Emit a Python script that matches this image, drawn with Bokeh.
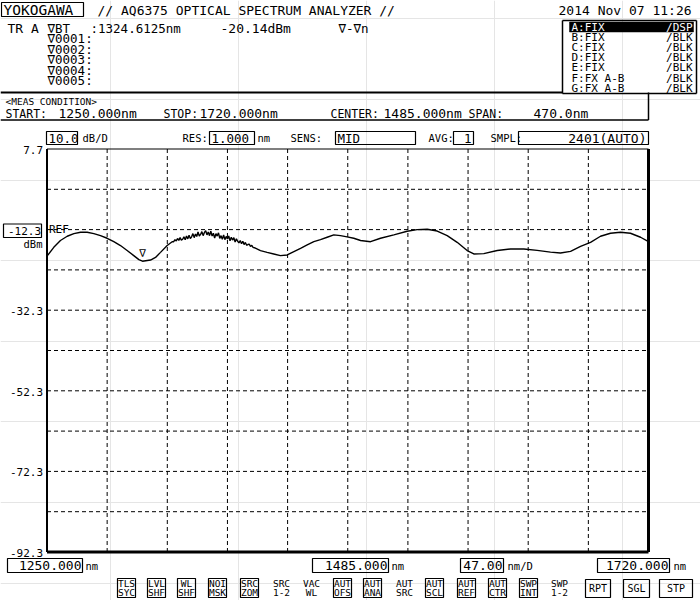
from bokeh.plotting import figure
from bokeh.models import Range1d
from bokeh.embed import file_html
from bokeh.resources import INLINE
from bokeh.core.properties import value

# ---------------- data ----------------
wavelength_nm = [
    1250.0, 1255.3, 1260.5, 1265.8, 1271.0, 1276.2, 1281.4, 1286.6, 1291.8, 1297.0,
    1302.2, 1307.4, 1312.6, 1317.8, 1321.8, 1324.6, 1330.9, 1334.8, 1338.7, 1343.9,
    1347.8,
    1349, 1350, 1351, 1352, 1353, 1354, 1355, 1356, 1357, 1358,
    1359, 1360, 1361, 1362, 1363, 1364, 1365, 1366, 1367, 1368,
    1369, 1370, 1371, 1372, 1373, 1374, 1375, 1376, 1377, 1378,
    1379, 1380, 1381, 1382, 1383, 1384, 1385, 1386, 1387, 1388,
    1389, 1390, 1391, 1392, 1393, 1394, 1395, 1396, 1397, 1398,
    1399, 1400, 1401, 1402, 1403, 1404, 1405, 1406, 1407, 1408,
    1409, 1410, 1411, 1412,
    1416.8, 1422.0, 1427.2, 1432.4, 1437.7, 1442.9, 1448.1, 1453.3, 1458.5, 1463.7,
    1468.9, 1474.1, 1479.3, 1484.5, 1489.7, 1495.0, 1502.8, 1510.6, 1521.0, 1531.4,
    1539.2, 1547.1, 1554.9, 1562.7, 1570.5, 1578.3, 1583.5, 1591.3, 1601.8, 1612.2,
    1622.6, 1633.0, 1643.4, 1651.2, 1659.1, 1666.9, 1674.7, 1682.5, 1690.3, 1698.1,
    1705.9, 1713.8, 1720.0,
]
power_dbm = [
    -18.9, -16.7, -15.0, -13.95, -13.3, -12.95, -12.95, -13.3, -13.8, -14.45,
    -15.3, -16.25, -17.5, -18.75, -19.75, -20.14, -19.85, -19.2, -17.95, -16.25,
    -15.3,
    -15.3, -14.8, -15.1, -14.5, -15.0, -14.3, -14.9, -14.7, -14.1, -14.8,
    -13.9, -14.6, -13.7, -14.5, -14.1, -13.3, -14.3, -13.4, -14.0, -12.9,
    -13.9, -13.5, -12.8, -13.8, -13.0, -12.6, -13.6, -12.9, -13.8, -12.7,
    -13.9, -13.2, -14.4, -13.3, -13.9, -13.1, -14.5, -13.8, -14.7, -13.6,
    -14.8, -14.0, -14.6, -13.9, -15.1, -14.2, -14.9, -14.3, -15.4, -14.6,
    -15.2, -15.6, -15.0, -15.8, -15.2, -16.0, -15.5, -16.2, -16.0, -15.9,
    -16.5, -16.2, -16.7, -16.8,
    -17.5, -17.95, -18.35, -18.75, -18.6, -17.75, -16.95, -16.1, -15.3, -14.8,
    -14.2, -13.6, -13.8, -14.1, -14.45, -15.0, -15.3, -14.45, -13.6, -12.7,
    -12.3, -12.2, -12.65, -13.8, -15.45, -17.5, -18.35, -18.25, -17.5, -17.1,
    -17.1, -17.45, -17.9, -18.1, -17.7, -16.45, -15.45, -13.95, -13.2, -12.95,
    -13.2, -14.2, -15.3,
]
start_nm, stop_nm = 1250.0, 1720.0
top_db, bottom_db = 7.7, -92.3
grid_nm = [1297, 1344, 1391, 1438, 1485, 1532, 1579, 1626, 1673]
grid_db = [-2.3, -12.3, -22.3, -32.3, -42.3, -52.3, -62.3, -72.3, -82.3]
ytick_db = [7.7, -32.3, -52.3, -72.3, -92.3]
ytick_labels = ["7.7", "-32.3", "-52.3", "-72.3", "-92.3"]
ref_db, ref_label = -12.3, "-12.3"
marker_nm, marker_dbm = 1324.6125, -20.14
trace_names = ["A:FIX", "B:FIX", "C:FIX", "D:FIX", "E:FIX", "F:FX A-B", "G:FX A-B"]
trace_modes = ["/DSP", "/BLK", "/BLK", "/BLK", "/BLK", "/BLK", "/BLK"]
buttons = [("TLS", "SYC"), ("LVL", "SHF"), ("WL", "SHF"), ("NOI", "MSK"), ("SRC", "ZOM"),
           ("SRC", "1-2"), ("VAC", "WL"), ("AUT", "OFS"), ("AUT", "ANA"), ("AUT", "SRC"),
           ("AUT", "SCL"), ("AUT", "REF"), ("AUT", "CTR"), ("SWP", "INT"), ("SWP", "1-2")]
buttons_boxed = [True, True, True, True, True, False, False, True, True, False,
                 True, True, True, True, False]

# ---------------- layout (reference pixel frame 700x600) ----------------
W, H = 700, 600
L, R, T, B = 46.5, 648.0, 148.5, 551.5
kx = (stop_nm - start_nm) / (R - L)
ky = (top_db - bottom_db) / (B - T)
x0 = start_nm - L * kx
x1 = stop_nm + (700 - R) * kx
y_top = top_db + T * ky
y_bot = bottom_db - (600 - B) * ky

FONT = "DejaVu Sans Mono"

p = figure(width=W, height=H, x_range=Range1d(x0, x1), y_range=Range1d(y_bot, y_top),
           output_backend="svg", toolbar_location=None,
           x_axis_location=None, y_axis_location=None, min_border=0)
p.outline_line_color = None
p.background_fill_color = "white"
p.border_fill_color = "white"
p.extra_x_ranges = {"px": Range1d(0, 700)}
p.extra_y_ranges = {"py": Range1d(600, 0)}
PX = dict(x_range_name="px", y_range_name="py")


def txt(x, y, s, size, align="left", color="black"):
    p.text(x=[x], y=[y], text=[s], text_font=value(FONT), text_font_size=f"{size}px",
           text_align=align, text_baseline="middle", text_color=color, **PX)


def box(l, t, r, b, lw=1.0, fill=None):
    p.quad(left=[l], right=[r], top=[t], bottom=[b], fill_color=fill,
           line_color="black", line_width=lw, **PX)


def seg(xa, ya, xb, yb, lw=1.0):
    p.segment(x0=[xa], y0=[ya], x1=[xb], y1=[yb], line_color="black", line_width=lw, **PX)


# header
box(1, 2, 83, 16, 1.2)
txt(3, 9.5, "YOKOGAWA", 14.5)
txt(97, 9.5, "// AQ6375 OPTICAL SPECTRUM ANALYZER //", 13)
txt(558, 9.5, "2014 Nov 07 11:26", 13)
txt(7, 27.5, "TR A", 13)
txt(47, 27.5, "\u2207BT", 12.5)
txt(90, 27.5, ":%.4fnm" % marker_nm, 12.5)
txt(220, 27.5, "%.2fdBm" % marker_dbm, 13)
txt(338, 27.5, "\u2207-\u2207n", 12.5)
for i, yy in enumerate([38, 48.5, 59, 69.5, 80]):
    txt(47, yy, "\u2207%04d:" % (i + 1), 12.5)
seg(0, 92, 562, 92, 2)

# trace status box
seg(562, 20, 562, 93, 1.5)
seg(562, 20, 696, 20, 1.5)
seg(696, 20, 696, 93, 1.5)
seg(562, 93, 696, 93, 1.5)
for i, (nm, md) in enumerate(zip(trace_names, trace_modes)):
    yy = 26.5 + i * 10.2
    col = "black"
    if i == 0:
        box(569, 21.5, 693, 31.5, 0.5, "black")
        col = "white"
    txt(571, yy, nm, 11, color=col)
    txt(692, yy, md, 11, align="right", color=col)

# meas condition
txt(5, 101, "<MEAS CONDITION>", 9.5)
txt(5, 113.5, "START:", 11.5)
txt(58, 112.5, "%.3fnm" % start_nm, 13)
txt(163, 113.5, "STOP:", 11.5)
txt(199, 112.5, "%.3fnm" % stop_nm, 13)
txt(330, 113.5, "CENTER:", 11.5)
txt(383, 112.5, "%.3fnm" % ((start_nm + stop_nm) / 2), 13)
txt(468, 113.5, "SPAN:", 11.5)
txt(533, 112.5, "%.1fnm" % (stop_nm - start_nm), 13)
seg(0, 119.5, 648, 119.5, 1.5)
seg(648, 92, 648, 119.5, 1.5)

# settings row
box(46, 131, 77, 144, 1.2)
txt(48, 137.5, "10.0", 12.5)
txt(82, 137.5, "dB/D", 10.5)
txt(182, 137.5, "RES:", 10.5)
box(209, 131, 254, 144, 1.2)
txt(211, 137.5, "1.000", 12.5)
txt(257, 137.5, "nm", 10.5)
txt(290, 137.5, "SENS:", 10.5)
box(335, 131, 415, 144, 1.2)
txt(337, 137.5, "MID", 12.5)
txt(428, 137.5, "AVG:", 10.5)
box(453, 131, 473, 144, 1.2)
txt(471, 137.5, "1", 12.5, align="right")
txt(490, 137.5, "SMPL:", 10.5)
box(518, 131, 648, 144, 1.2)
txt(646, 137.5, "2401(AUTO)", 13, align="right")

# plot frame and grid (data coordinates)
p.segment(x0=grid_nm, y0=[bottom_db] * len(grid_nm), x1=grid_nm, y1=[top_db] * len(grid_nm),
          line_color="black", line_dash="4 3", line_width=1)
p.segment(x0=[start_nm] * len(grid_db), y0=grid_db, x1=[stop_nm] * len(grid_db), y1=grid_db,
          line_color="black", line_dash="4 3", line_width=1)
p.segment(x0=[start_nm, start_nm], y0=[top_db, bottom_db], x1=[stop_nm, stop_nm],
          y1=[top_db, bottom_db], line_color="black", line_width=[1.2, 3])
p.segment(x0=[start_nm, stop_nm], y0=[bottom_db, bottom_db], x1=[start_nm, stop_nm],
          y1=[top_db, top_db], line_color="black", line_width=[2, 3])

# y tick labels
p.text(x=[start_nm] * len(ytick_db), y=ytick_db, text=ytick_labels, x_offset=-4, y_offset=1,
       text_font=value(FONT), text_font_size="11px", text_align="right",
       text_baseline="middle", text_color="black")
box(3, 223.5, 41, 237, 1.2)
p.text(x=[start_nm], y=[ref_db], text=[ref_label], x_offset=-6, y_offset=1,
       text_font=value(FONT), text_font_size="11px", text_align="right",
       text_baseline="middle", text_color="black")
txt(42, 243.5, "dBm", 10.5, align="right")
p.text(x=[start_nm], y=[ref_db], text=["REF"], x_offset=2, y_offset=0,
       text_font=value(FONT), text_font_size="11px", text_align="left",
       text_baseline="middle", text_color="black")

# trace
p.line(wavelength_nm, power_dbm, line_color="black", line_width=1.4)
p.text(x=[marker_nm], y=[marker_dbm], text=["\u2207"], y_offset=-1,
       text_font=value(FONT), text_font_size="11px", text_align="center",
       text_baseline="bottom", text_color="black")

# bottom wavelength boxes
box(7, 558, 82, 572, 1.2)
txt(81, 565, "%.3f" % start_nm, 13, align="right")
txt(85, 565.5, "nm", 10.5)
box(312, 558, 388, 572, 1.2)
txt(387, 565, "%.3f" % ((start_nm + stop_nm) / 2), 13, align="right")
txt(391, 565.5, "nm", 10.5)
box(460, 558, 503, 572, 1.2)
txt(502, 565, "%.2f" % ((stop_nm - start_nm) / 10), 13, align="right")
txt(507, 565.5, "nm/D", 10.5)
box(597, 558, 669, 572, 1.2)
txt(668, 565, "%.3f" % stop_nm, 13, align="right")
txt(673, 565.5, "nm", 10.5)

# buttons
btn_left = [117, 147, 177, 208, 240, 272, 302, 333, 363, 395, 425, 457, 488, 519, 550]
for (a, b2), bx, boxed in zip(buttons, btn_left, buttons_boxed):
    if boxed:
        box(bx, 578, bx + 18, 597, 1.2)
    txt(bx + 9, 583, a, 9.5, align="center")
    txt(bx + 9, 592, b2, 9.5, align="center")
for lab, l, r in [("RPT", 585, 610), ("SGL", 623, 649), ("STP", 659, 692)]:
    box(l, 579, r, 597, 1.2)
    txt((l + r) / 2, 588, lab, 10, align="center")

open("out.html", "w").write(file_html(p, INLINE))
